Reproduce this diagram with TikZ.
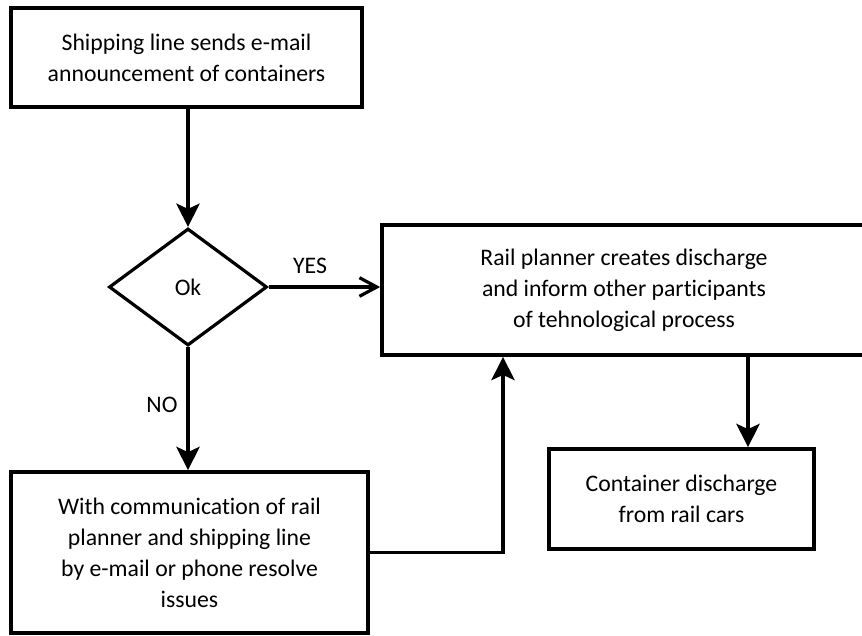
\documentclass[tikz,border=0pt]{standalone}
\usepackage{fontspec}
\setmainfont[Ligatures=NoCommon]{Carlito}
\usetikzlibrary{shapes.geometric}
\usetikzlibrary{arrows.meta}

\begin{document}
\begin{tikzpicture}[
                x=0.75pt, y=-0.75pt,
                box/.style={draw=black, line width=2.8pt, rectangle, align=center, inner sep=0pt,
                    font=\fontsize{17.8}{23.25}\selectfont},
                decide/.style={draw=black, line width=2.4pt, diamond, inner sep=0pt,
                    font=\fontsize{17.8}{23.25}\selectfont},
                flow/.style={line width=2.4pt, -{Stealth[length=17.5pt, width=17.5pt, inset=4pt]}},
                openflow/.style={line width=2.4pt, -{Straight Barb[length=13pt, width=14pt]}},
                tag/.style={font=\fontsize{17.8}{22}\selectfont, inner sep=0pt} ]

            \useasboundingbox (0,0) rectangle (862,635);

            \node[box, minimum width=263.25pt, minimum height=74.25pt] (ship) at (186.5,57.5)
                {Shipping line sends e-mail\\announcement of containers};
            \node[decide, minimum width=118.5pt, minimum height=87.75pt] (ok) at (188,287) {Ok};
            \node[box, minimum width=363pt, minimum height=97.5pt] (plan) at (624,290)
                {Rail planner creates discharge\\and inform other participants\\of tehnological process};
            \node[box, minimum width=198.75pt, minimum height=75pt] (unload) at (681.5,499)
                {Container discharge\\from rail cars};
            \node[box, minimum width=267.75pt, minimum height=120.75pt] (resolve) at (189.5,552.5)
                {With communication of rail\\planner and shipping line\\by e-mail or phone resolve\\issues};

            \coordinate (drop) at (748,0);
            \coordinate (turn) at (503,552.5);

            \draw[flow] (ok.north |- ship.south) -- (ok.north);
            \draw[openflow] (ok.east) -- (ok.east -| plan.west);
            \draw[flow] (ok.south) -- (ok.south |- resolve.north);
            \draw[flow] (resolve.east) -- (turn) -- (turn |- plan.south);
            \draw[flow] (plan.south -| drop) -- (unload.north -| drop);

            \node[tag] (yes) at (310,266) {YES};
            \node[tag] (no) at (162,405) {NO};

        \end{tikzpicture}
\end{document}
